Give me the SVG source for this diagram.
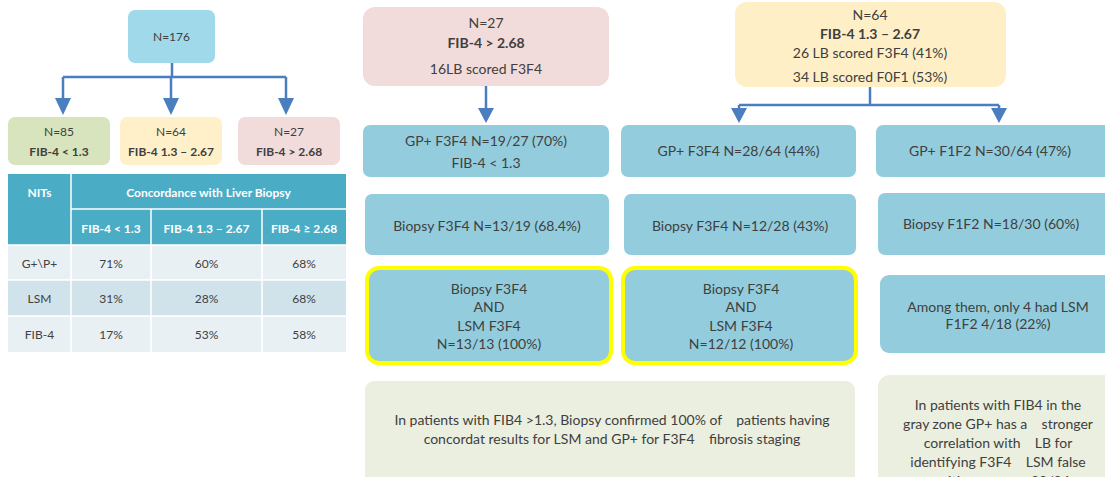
<svg xmlns="http://www.w3.org/2000/svg" width="1105" height="477" viewBox="0 0 1105 477">
<defs>
<style>
text{font-family:Lato,"Liberation Sans",sans-serif;fill:#404040;text-anchor:middle}
.s12{font-size:12px}
.s14{font-size:14px}
.b{font-weight:bold}
.w{fill:#ffffff;font-weight:bold;font-size:12px}
.conn{stroke:#4a7ebf;stroke-width:2.5;fill:none}
.ah{fill:#4a7ebf}
.blue{fill:#93cddd}
.hl{fill:#93cddd;stroke:#ffff00;stroke-width:4}
</style>
</defs>
<rect width="1105" height="477" fill="#ffffff"/>

<g id="connectors">
<path class="conn" d="M172,63 V77 M63,77 H286 M63,77 V99 M171,77 V99 M286,77 V99"/>
<polygon class="ah" points="55,98 71,98 63,115"/>
<polygon class="ah" points="163,98 179,98 171,115"/>
<polygon class="ah" points="278,98 294,98 286,115"/>
<path class="conn" d="M486,86 V109"/>
<polygon class="ah" points="478,108 494,108 486,123"/>
<path class="conn" d="M870,87 V105 M739,105 H999 M739,105 V109 M999,105 V109"/>
<polygon class="ah" points="731,108 747,108 739,123"/>
<polygon class="ah" points="991,108 1007,108 999,123"/>
</g>

<g id="n176"><rect x="128" y="10" width="87" height="53" rx="7" fill="#9fd9ea"/><text class="s12" x="171.5" y="41">N=176</text></g>
<g id="n85"><rect x="8" y="117" width="102" height="48" rx="7" fill="#d7e4bd"/><text class="s12" x="59" y="136">N=85</text><text class="s12 b" x="59" y="156">FIB-4 &lt; 1.3</text></g>
<g id="n64a"><rect x="120" y="117" width="102" height="48" rx="7" fill="#fff0c9"/><text class="s12" x="171" y="136">N=64</text><text class="s12 b" x="171" y="156">FIB-4 1.3 – 2.67</text></g>
<g id="n27a"><rect x="238" y="117" width="102" height="48" rx="7" fill="#f2dbdb"/><text class="s12" x="289" y="136">N=27</text><text class="s12 b" x="289" y="156">FIB-4 &gt; 2.68</text></g>

<g id="table">
<rect x="8" y="174" width="338" height="71" fill="#4bacc6"/>
<rect x="8" y="245" width="338" height="35" fill="#e9f0f4"/>
<rect x="8" y="280" width="338" height="36" fill="#d0e3ea"/>
<rect x="8" y="316" width="338" height="36" fill="#e9f0f4"/>
<path d="M71,174 V352 M71,209 H346 M151,209 V352 M262,209 V352 M8,245 H346 M8,280 H346 M8,316 H346" stroke="#ffffff" stroke-width="1.5" fill="none"/>
<text class="w" x="39.5" y="197">NITs</text>
<text class="w" x="208.5" y="197">Concordance with Liver Biopsy</text>
<text class="w" x="111" y="233">FIB-4 &lt; 1.3</text>
<text class="w" x="206.5" y="233">FIB-4 1.3 – 2.67</text>
<text class="w" x="304" y="233">FIB-4 ≥ 2.68</text>
<text class="s12" x="39.5" y="268">G+\P+</text><text class="s12" x="111" y="268">71%</text><text class="s12" x="206.5" y="268">60%</text><text class="s12" x="304" y="268">68%</text>
<text class="s12" x="39.5" y="303">LSM</text><text class="s12" x="111" y="303">31%</text><text class="s12" x="206.5" y="303">28%</text><text class="s12" x="304" y="303">68%</text>
<text class="s12" x="39.5" y="339">FIB-4</text><text class="s12" x="111" y="339">17%</text><text class="s12" x="206.5" y="339">53%</text><text class="s12" x="304" y="339">58%</text>
</g>

<g id="n27b"><rect x="363" y="7" width="246" height="79" rx="12" fill="#f2dbdb"/>
<text class="s14" x="486" y="28">N=27</text><text class="s14 b" x="486" y="48">FIB-4 &gt; 2.68</text><text class="s14" x="486" y="74">16LB scored F3F4</text></g>
<g id="n64b"><rect x="735" y="2" width="271" height="85" rx="12" fill="#ffefc7"/>
<text class="s14" x="870" y="20">N=64</text><text class="s14 b" x="870" y="39">FIB-4 1.3 – 2.67</text><text class="s14" x="870" y="58">26 LB scored F3F4 (41%)</text><text class="s14" x="870" y="82">34 LB scored F0F1 (53%)</text></g>

<g id="gp1"><rect class="blue" x="363" y="125" width="246" height="52" rx="7"/><text class="s14" x="486" y="146">GP+ F3F4 N=19/27 (70%)</text><text class="s14" x="486" y="168">FIB-4 &lt; 1.3</text></g>
<g id="gp2"><rect class="blue" x="621" y="125" width="235" height="52" rx="7"/><text class="s14" x="738.5" y="156">GP+ F3F4 N=28/64 (44%)</text></g>
<g id="gp3"><rect class="blue" x="876" y="125" width="240" height="52" rx="7"/><text class="s14" x="990" y="156">GP+ F1F2 N=30/64 (47%)</text></g>

<g id="bx1"><rect class="blue" x="365" y="194" width="244" height="61" rx="7"/><text class="s14" x="487" y="231">Biopsy F3F4 N=13/19 (68.4%)</text></g>
<g id="bx2"><rect class="blue" x="624" y="194" width="232" height="61" rx="7"/><text class="s14" x="740" y="231">Biopsy F3F4 N=12/28 (43%)</text></g>
<g id="bx3"><rect class="blue" x="878" y="193" width="240" height="62" rx="7"/><text class="s14" x="991" y="229">Biopsy F1F2 N=18/30 (60%)</text></g>

<g id="hl1"><rect class="hl" x="367" y="268" width="244" height="95" rx="12"/>
<text class="s14" x="489" y="294">Biopsy F3F4</text><text class="s14" x="489" y="312">AND</text><text class="s14" x="489" y="331">LSM F3F4</text><text class="s14" x="489" y="349">N=13/13 (100%)</text></g>
<g id="hl2"><rect class="hl" x="623" y="268" width="233" height="95" rx="12"/>
<text class="s14" x="741" y="294">Biopsy F3F4</text><text class="s14" x="741" y="312">AND</text><text class="s14" x="741" y="331">LSM F3F4</text><text class="s14" x="741" y="349">N=12/12 (100%)</text></g>
<g id="among"><rect class="blue" x="880" y="275" width="240" height="78" rx="9"/>
<text class="s14" x="998" y="312">Among them, only 4 had LSM</text><text class="s14" x="998" y="329">F1F2 4/18 (22%)</text></g>

<g id="note1"><rect x="365" y="381" width="490" height="110" rx="9" fill="#ebefdf"/>
<text class="s14" x="612" y="425" xml:space="preserve">In patients with FIB4 &gt;1.3, Biopsy confirmed 100% of    patients having</text>
<text class="s14" x="612" y="444" xml:space="preserve">concordat results for LSM and GP+ for F3F4    fibrosis staging</text></g>
<g id="note2"><rect x="878" y="375" width="240" height="120" rx="12" fill="#ebefdf"/>
<text class="s14" x="998" y="410">In patients with FIB4 in the</text>
<text class="s14" x="998" y="429" xml:space="preserve">gray zone GP+ has a    stronger</text>
<text class="s14" x="998" y="448" xml:space="preserve">correlation with    LB for</text>
<text class="s14" x="998" y="467" xml:space="preserve">identifying F3F4    LSM false</text>
<text class="s14" x="998" y="486" xml:space="preserve">positive rate        20/24</text></g>
</svg>
